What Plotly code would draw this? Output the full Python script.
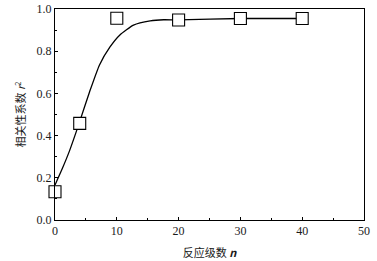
import plotly.graph_objects as go

# measured points
n_pts = [0, 4, 10, 20, 30, 40]
r2_pts = [0.134, 0.458, 0.956, 0.948, 0.955, 0.955]

# fitted curve
n_fit = [0, 1.2, 2.3, 3.9, 5.6, 7.2, 8.9, 10.5, 12.7, 15.4, 17.6, 20, 30, 40]
r2_fit = [0.166, 0.245, 0.324, 0.458, 0.608, 0.735, 0.82, 0.877, 0.924, 0.944, 0.949, 0.948, 0.955, 0.955]

x_ticks = [0, 10, 20, 30, 40, 50]
y_ticks = [0.0, 0.2, 0.4, 0.6, 0.8, 1.0]

fig = go.Figure()
fig.add_trace(go.Scatter(x=n_fit, y=r2_fit, mode="lines",
                         line=dict(color="black", width=1.3, shape="spline", smoothing=0.5),
                         showlegend=False, hoverinfo="skip"))
fig.add_trace(go.Scatter(x=n_pts, y=r2_pts, mode="markers",
                         marker=dict(symbol="square", size=12, color="white",
                                     line=dict(color="black", width=1.1)),
                         showlegend=False, cliponaxis=False))

serif = "Liberation Serif"
cjk = "Noto Sans CJK SC"
fig.update_layout(
    width=377, height=261,
    margin=dict(l=55, r=13, t=9, b=41, autoexpand=False),
    paper_bgcolor="white", plot_bgcolor="white",
    font=dict(family=serif, size=12, color="#1a1a1a"),
    xaxis=dict(range=[0, 50], tickvals=x_ticks, ticktext=[str(v) for v in x_ticks],
               tickfont=dict(family=serif, size=12),
               ticks="inside", ticklen=3, tickcolor="black", showgrid=False, zeroline=False,
               showline=True, linecolor="black", linewidth=1, mirror=True, automargin=False,
               minor=dict(dtick=5, ticks="inside", ticklen=2, tickcolor="black"),
               title=dict(text="反应级数 <i><b>n</b></i>", standoff=11,
                          font=dict(family=cjk, size=11))),
    yaxis=dict(range=[0, 1.0], tickvals=y_ticks, ticktext=[f"{v:.1f}" for v in y_ticks],
               tickfont=dict(family=serif, size=12),
               ticks="inside", ticklen=3, tickcolor="black", showgrid=False, zeroline=False,
               showline=True, linecolor="black", linewidth=1, mirror=True, automargin=False,
               minor=dict(dtick=0.1, ticks="inside", ticklen=2, tickcolor="black"),
               title=dict(text="相关性系数 <i>r</i><sup>2</sup>", standoff=8,
                          font=dict(family=cjk, size=11))),
)
fig.write_html("out.html", config={"displayModeBar": False},
               post_script="document.body.style.margin='0';")
